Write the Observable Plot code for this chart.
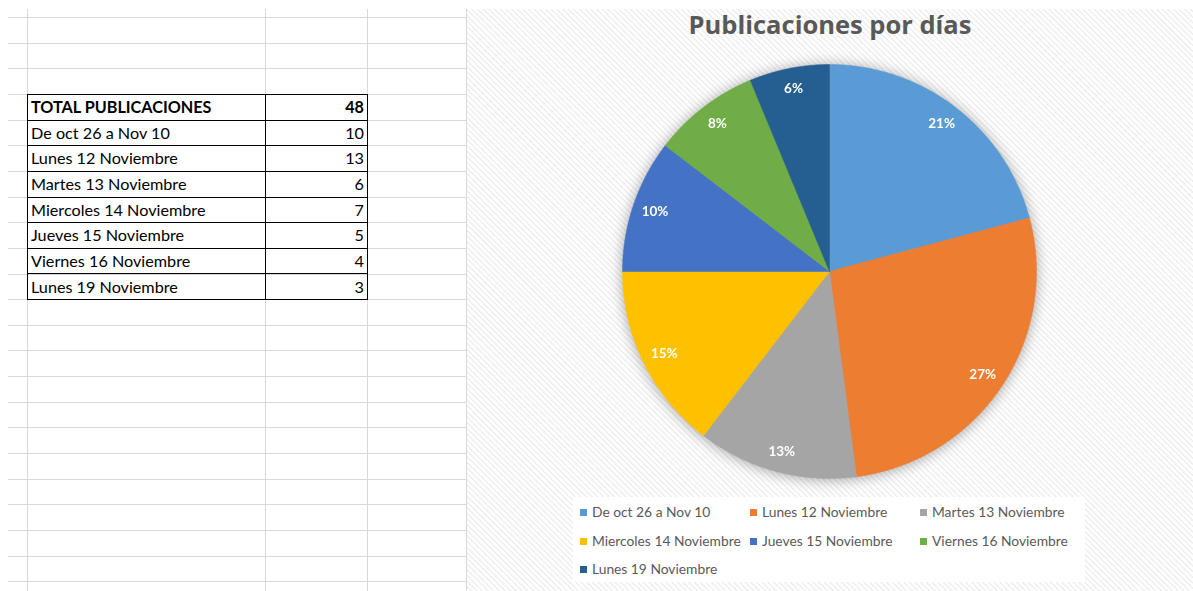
<!DOCTYPE html>
<html>
<head>
<meta charset="utf-8">
<script src="https://cdn.jsdelivr.net/npm/d3@7"></script>
<script src="https://cdn.jsdelivr.net/npm/@observablehq/plot@0.6"></script>
<style>
  html, body { margin: 0; padding: 0; background: #fff; }
  body { width: 1193px; height: 591px; position: relative; overflow: hidden; font-family: Lato, "Open Sans", sans-serif; }
  .gl { position: absolute; background: #d9d9d9; }
  #tbl { position: absolute; left: 27px; top: 94px; border-collapse: collapse; font-size: 16.2px; color: #000; }
  #tbl td { border: 1px solid #000; height: 25.625px; padding: 0 3px; box-sizing: border-box; white-space: nowrap; line-height: 1; }
  #tbl td.n { text-align: right; }
  #chart { position: absolute; left: 467px; top: 9px; width: 726px; height: 582px;
    background: repeating-linear-gradient(45deg, #ffffff 0px, #ffffff 2px, #efefef 2.5px, #efefef 3.5px, #ffffff 4px); }
  #title { position: absolute; left: 0; width: 726px; top: -2px; text-align: center; font-weight: bold; font-size: 25.5px; color: #595959; font-family: "Open Sans", sans-serif; }
  #pie { position: absolute; left: 142px; top: 42px; filter: drop-shadow(0 1px 7px rgba(0,0,0,0.35)); }
  #legend { position: absolute; left: 106px; top: 488px; width: 512px; height: 85px; background: rgba(255,255,255,0.95); }
  .li { position: absolute; font-size: 13.8px; color: #595959; white-space: nowrap; }
  .sw { display: inline-block; width: 7px; height: 7px; margin-right: 5px; vertical-align: 1px; }
</style>
</head>
<body>
<div id="grid"></div>
<table id="tbl"></table>
<div id="chart">
  <div id="title"></div>
  <div id="pie"></div>
  <div id="legend"></div>
</div>
<script>
const chartTitle = "Publicaciones por días";
const totalLabel = "TOTAL PUBLICACIONES";
const categories = ["De oct 26 a Nov 10", "Lunes 12 Noviembre", "Martes 13 Noviembre", "Miercoles 14 Noviembre", "Jueves 15 Noviembre", "Viernes 16 Noviembre", "Lunes 19 Noviembre"];
const values = [10, 13, 6, 7, 5, 4, 3];
const colors = ["#5B9BD5", "#ED7D31", "#A5A5A5", "#FFC000", "#4472C4", "#70AD47", "#255E91"];

const total = d3.sum(values);

// spreadsheet grid (decoration)
const grid = document.getElementById("grid");
const rowStep = 25.65;
for (let i = 0; i < 23; i++) {
  const d = document.createElement("div");
  d.className = "gl";
  Object.assign(d.style, {left: "8px", width: "459px", top: (17 + i * rowStep).toFixed(1) + "px", height: "1px"});
  grid.appendChild(d);
}
[27, 265, 367, 466].forEach(x => {
  const d = document.createElement("div");
  d.className = "gl";
  Object.assign(d.style, {left: x + "px", width: "1px", top: "9px", height: "582px"});
  grid.appendChild(d);
});

// table
const tbl = document.getElementById("tbl");
const rows = [[totalLabel, total, true]].concat(categories.map((c, i) => [c, values[i], false]));
rows.forEach(([c, v, b]) => {
  const tr = document.createElement("tr");
  const td1 = document.createElement("td");
  td1.textContent = c; td1.style.width = "238px";
  const td2 = document.createElement("td");
  td2.textContent = v; td2.className = "n"; td2.style.width = "102px";
  if (b) { td1.style.fontWeight = "bold"; td2.style.fontWeight = "bold"; }
  tr.appendChild(td1); tr.appendChild(td2);
  tbl.appendChild(tr);
});

document.getElementById("title").textContent = chartTitle;

// pie
const R = 207;
const arcs = d3.pie().sort(null).value(d => d)(values);
const pts = [];
arcs.forEach((a, i) => {
  const cat = categories[i];
  pts.push({cat, x: 0, y: 0});
  const n = Math.max(2, Math.ceil((a.endAngle - a.startAngle) / 0.01));
  for (let k = 0; k <= n; k++) {
    const t = a.startAngle + (a.endAngle - a.startAngle) * k / n;
    pts.push({cat, x: R * Math.sin(t), y: R * Math.cos(t)});
  }
  pts.push({cat, x: 0, y: 0});
});
const labels = arcs.map((a, i) => {
  const m = (a.startAngle + a.endAngle) / 2;
  return {x: 0.89 * R * Math.sin(m), y: 0.9 * R * Math.cos(m), text: Math.round(values[i] / total * 100) + "%"};
});

const plot = Plot.plot({
  width: 440, height: 440, margin: 0,
  style: {background: "transparent", overflow: "visible"},
  x: {domain: [-220, 220], axis: null},
  y: {domain: [-220, 220], axis: null},
  color: {domain: categories, range: colors},
  marks: [
    Plot.line(pts, {x: "x", y: "y", z: "cat", fill: "cat", stroke: "cat", strokeWidth: 0.5}),
    Plot.text(labels, {x: "x", y: "y", text: "text", fill: "white", fontWeight: "bold", fontSize: 13.5, fontFamily: "Lato, sans-serif"})
  ]
});
document.getElementById("pie").appendChild(plot);

// legend
const legend = document.getElementById("legend");
categories.forEach((c, i) => {
  const col = i % 3, row = Math.floor(i / 3);
  const d = document.createElement("div");
  d.className = "li";
  d.style.left = (7 + col * 170) + "px";
  d.style.top = (6 + row * 28.5) + "px";
  d.innerHTML = `<span class="sw" style="background:${colors[i]}"></span>${c}`;
  legend.appendChild(d);
});
</script>
</body>
</html>
